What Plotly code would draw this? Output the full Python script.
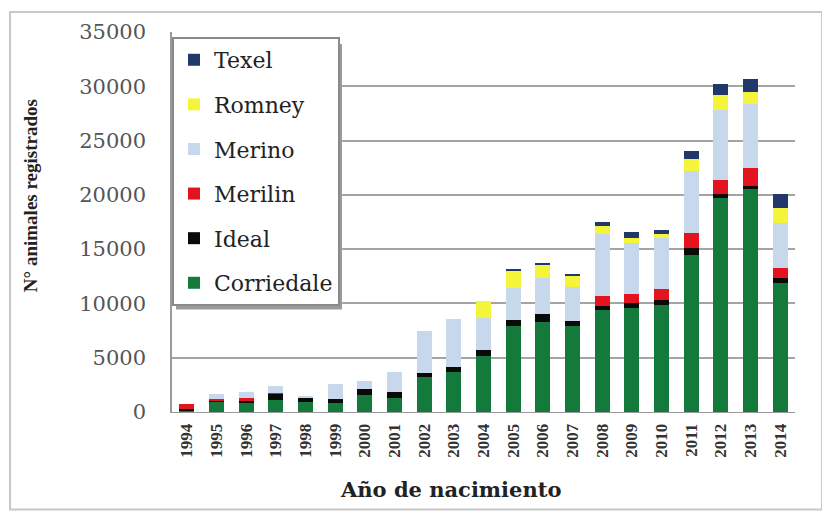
import plotly.graph_objects as go

years = [str(y) for y in range(1994, 2015)]
corriedale = [150, 900, 900, 1100, 900, 800, 1600, 1300, 3200, 3700, 5200, 7900, 8300, 7900, 9400, 9600, 9900, 14500, 19700, 20500, 11900]
ideal      = [100, 200, 150, 600, 450, 400, 500, 500, 400, 400, 500, 600, 700, 500, 400, 400, 400, 600, 400, 300, 400]
merilin    = [450, 100, 250, 50, 0, 0, 0, 0, 0, 0, 0, 0, 0, 0, 900, 900, 1000, 1400, 1300, 1700, 1000]
merino     = [0, 500, 500, 600, 100, 1400, 800, 1900, 3900, 4500, 3000, 2900, 3300, 3100, 5700, 4700, 4700, 5700, 6400, 5900, 4100]
romney     = [0, 0, 0, 0, 0, 0, 0, 0, 0, 0, 1500, 1600, 1200, 1100, 700, 400, 400, 1100, 1400, 1100, 1400]
texel      = [0, 0, 0, 0, 0, 0, 0, 0, 0, 0, 0, 100, 200, 100, 400, 600, 400, 700, 1000, 1200, 1300]

series = [
    ("Corriedale", corriedale, "#137a3c"),
    ("Ideal", ideal, "#0a0a0a"),
    ("Merilin", merilin, "#e3141e"),
    ("Merino", merino, "#c8d8ec"),
    ("Romney", romney, "#f4f43a"),
    ("Texel", texel, "#23386a"),
]

fig = go.Figure()
n = len(series)
for i, (name, vals, col) in enumerate(series):
    fig.add_trace(go.Bar(x=years, y=vals, name=name, marker_color=col,
                         marker_line_width=0, legendgroup=name,
                         legendrank=(n - i) * 10))

serif = "Liberation Serif, Times New Roman, serif"
wide = "DejaVu Serif, serif"
L, R, T, B = 164, 43, 22, 113
PW = 830 - L - R
PH = 517 - T - B

fig.update_layout(
    width=830, height=517,
    barmode="stack", bargap=0.5,
    plot_bgcolor="white", paper_bgcolor="white",
    margin=dict(l=L, r=R, t=T, b=B),
    font=dict(family=serif, color="#333333"),
    legend=dict(
        x=0.0, y=1 - 5 / PH, xanchor="left", yanchor="top",
        traceorder="grouped", tracegroupgap=13,
        font=dict(family=wide, size=22, color="#222222"),
        bgcolor="white", bordercolor="#8a8a8a", borderwidth=2,
        itemwidth=30,
    ),
    xaxis=dict(
        type="category", tickangle=-90,
        tickfont=dict(family=serif, size=17, color="#333333", weight="bold"),
        showline=True, linecolor="#9a9a9a", linewidth=1,
        ticks="", showgrid=False, ticklabelstandoff=4,
    ),
    yaxis=dict(
        range=[0, 35000], dtick=5000, tickformat="d",
        tickfont=dict(family=wide, size=21, color="#555555"),
        ticklabelstandoff=20,
        showgrid=True, gridcolor="#a4a4a4", gridwidth=1.5,
        showline=True, linecolor="#9a9a9a", linewidth=1.5,
        ticks="", zeroline=False,
    ),
    annotations=[
        dict(text="<b>N° animales registrados</b>", xref="paper", yref="paper",
             x=(22 - L) / PW, y=(PH + T - 187) / PH, xanchor="center", yanchor="middle",
             textangle=-90, showarrow=False,
             font=dict(family=serif, size=19, color="#222222")),
        dict(text="<b>Año de nacimiento</b>", xref="paper", yref="paper",
             x=(442 - L) / PW, y=(PH + T - 482) / PH, xanchor="center", yanchor="middle",
             showarrow=False,
             font=dict(family=wide, size=21, color="#222222")),
    ],
    shapes=[
        dict(type="rect", xref="paper", yref="paper",
             x0=-162 / PW, x1=1 + 27 / PW, y0=-98 / PH, y1=1 + 20 / PH,
             line=dict(color="#c8c8c8", width=2), fillcolor="rgba(0,0,0,0)", layer="below"),
        dict(type="rect", xref="paper", yref="paper",
             x0=(168 - L) / PW, x1=(334 - L) / PW,
             y0=(PH + T - 301) / PH, y1=(PH + T - 34) / PH,
             line=dict(width=0), fillcolor="#9a9a9a", layer="above"),
    ],
)

fig.write_html("out.html")
